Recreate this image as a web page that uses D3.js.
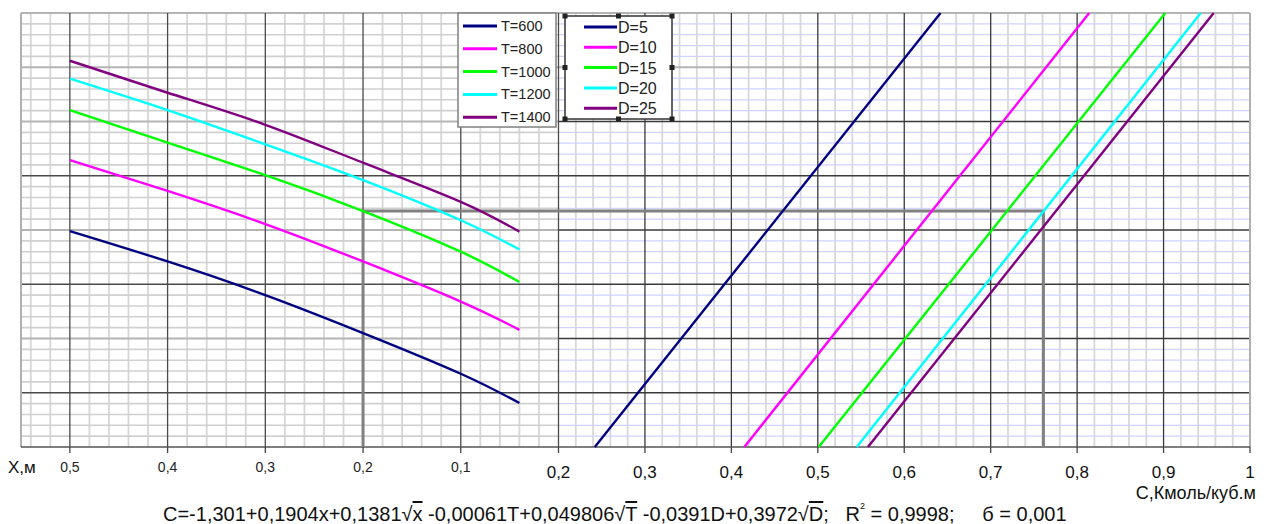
<!DOCTYPE html>
<html><head><meta charset="utf-8">
<script src="https://cdn.jsdelivr.net/npm/d3@7"></script>
<style>body{margin:0;background:#fff}svg{display:block}text{font-family:Arial,"Liberation Sans",sans-serif}</style>
</head><body><svg id="c" width="1270" height="524"></svg>
<script>
// ---- data ----
const xSamples = [0.5, 0.4, 0.3, 0.2, 0.1, 0.04];
const tNames = ["T=600", "T=800", "T=1000", "T=1200", "T=1400"];
const y600  = [3.98, 3.42, 2.80, 2.10, 1.35, 0.81];
const y800  = [5.29, 4.72, 4.11, 3.42, 2.68, 2.16];
const y1000 = [6.21, 5.61, 5.01, 4.35, 3.60, 3.04];
const y1200 = [6.79, 6.21, 5.58, 4.92, 4.18, 3.64];
const y1400 = [7.12, 6.53, 5.94, 5.24, 4.52, 3.97];
const dNames = ["D=5", "D=10", "D=15", "D=20", "D=25"];
const yEnds = [0, 8];
const cD5  = [0.242, 0.642];
const cD10 = [0.415, 0.814];
const cD15 = [0.501, 0.902];
const cD20 = [0.545, 0.943];
const cD25 = [0.558, 0.958];
const xTickLabels = ["0,5", "0,4", "0,3", "0,2", "0,1"];
const xTicks = [0.5, 0.4, 0.3, 0.2, 0.1];
const cTicks = [0.2, 0.3, 0.4, 0.5, 0.6, 0.7, 0.8, 0.9, 1];
const cTickLabels = ["0,2", "0,3", "0,4", "0,5", "0,6", "0,7", "0,8", "0,9", "1"];
const guideX = 0.2, guideY = 4.35, guideC = 0.761;
const colors = ["#000080", "#ff00ff", "#00ff00", "#00ffff", "#800080"];

const svg = d3.select("#c");
const xL = d3.scaleLinear().domain([0.55, 0]).range([21, 558.5]);
const xR = d3.scaleLinear().domain([0.2, 1]).range([558.5, 1250]);
const y = d3.scaleLinear().domain([0, 8]).range([447, 13]);
const g = svg.append("g");

// ---- grid: left panel ----
const leftMinorX = d3.range(27, 0, -1).map(i => i * 0.02).filter(v => Math.abs(v * 10 - Math.round(v * 10)) > 1e-6);
g.selectAll(".lmx").data(leftMinorX).join("line")
  .attr("x1", d => xL(d)).attr("x2", d => xL(d)).attr("y1", y(8)).attr("y2", y(0))
  .attr("stroke", "#d6d6d6").attr("stroke-width", 1.8);
const minorY = d3.range(0, 40).map(i => i * 0.2).filter(v => Math.abs(v - Math.round(v)) > 1e-6);
g.selectAll(".lmy").data(minorY).join("line")
  .attr("x1", xL(0.55)).attr("x2", xL(0)).attr("y1", d => y(d)).attr("y2", d => y(d))
  .attr("stroke", "#d0d0d0").attr("stroke-width", 1.6);
// right panel minor
const rightMinorX = d3.range(11, 50).map(i => i * 0.02).filter(v => Math.abs(v * 10 - Math.round(v * 10)) > 1e-6);
g.selectAll(".rmx").data(rightMinorX).join("line")
  .attr("x1", d => xR(d)).attr("x2", d => xR(d)).attr("y1", y(8)).attr("y2", y(0))
  .attr("stroke", "#d8d8d8").attr("stroke-width", 1.8);
g.selectAll(".rmy").data(minorY).join("line")
  .attr("x1", xR(0.2)).attr("x2", xR(1)).attr("y1", d => y(d)).attr("y2", d => y(d))
  .attr("stroke", "#d2d2ff").attr("stroke-width", 1.2);

// major horizontal
const majorY = d3.range(1, 9);
const leftMajStyle = {1: "d", 2: "g", 3: "d", 4: "g", 5: "d", 6: "g", 7: "g", 8: "g"};
g.selectAll(".lMy").data(majorY).join("line")
  .attr("x1", xL(0.55)).attr("x2", xL(0)).attr("y1", d => y(d)).attr("y2", d => y(d))
  .attr("stroke", d => leftMajStyle[d] === "d" ? "#4a4a4a" : "#b4b4b4")
  .attr("stroke-width", d => leftMajStyle[d] === "d" ? 1.3 : 2.2);
g.selectAll(".rMy").data(majorY).join("line")
  .attr("x1", xR(0.2)).attr("x2", xR(1)).attr("y1", d => y(d)).attr("y2", d => y(d))
  .attr("stroke", d => d >= 7 ? "#b4b4b4" : "#3a3a3a")
  .attr("stroke-width", d => d >= 7 ? 2.2 : 1.3);
// major vertical
g.selectAll(".lMx").data(xTicks.concat([0])).join("line")
  .attr("x1", d => xL(d)).attr("x2", d => xL(d)).attr("y1", y(8)).attr("y2", y(0))
  .attr("stroke", "#4a4a4a").attr("stroke-width", 1.3);
g.selectAll(".rMx").data(cTicks.slice(1, 8)).join("line")
  .attr("x1", d => xR(d)).attr("x2", d => xR(d)).attr("y1", y(8)).attr("y2", y(0))
  .attr("stroke", "#3a3a3a").attr("stroke-width", 1.3);
// borders
g.append("line").attr("x1", xL(0.55)).attr("x2", xL(0.55)).attr("y1", y(8)).attr("y2", y(0)).attr("stroke", "#b0b0b0").attr("stroke-width", 2);
g.append("line").attr("x1", xR(1)).attr("x2", xR(1)).attr("y1", y(8)).attr("y2", y(0)).attr("stroke", "#b0b0b0").attr("stroke-width", 2);

// axis
const axisG = svg.append("g");
axisG.append("line").attr("x1", xL(0.55)).attr("x2", xR(1)).attr("y1", y(0)).attr("y2", y(0)).attr("stroke", "#555").attr("stroke-width", 1.5);
axisG.selectAll(".tl").data(xTicks).join("line")
  .attr("x1", d => xL(d)).attr("x2", d => xL(d)).attr("y1", y(0)).attr("y2", y(0) + 6).attr("stroke", "#444").attr("stroke-width", 1.3);
axisG.selectAll(".tr").data(cTicks).join("line")
  .attr("x1", d => xR(d)).attr("x2", d => xR(d)).attr("y1", y(0)).attr("y2", y(0) + 6).attr("stroke", "#444").attr("stroke-width", 1.3);
axisG.selectAll(".tlt").data(xTicks).join("text")
  .attr("x", d => xL(d)).attr("y", 472).attr("text-anchor", "middle").attr("font-size", 14).attr("fill", "#222")
  .text((d, i) => xTickLabels[i]);
axisG.selectAll(".trt").data(cTicks).join("text")
  .attr("x", d => xR(d)).attr("y", 478).attr("text-anchor", "middle").attr("font-size", 17).attr("fill", "#111")
  .text((d, i) => cTickLabels[i]);
axisG.append("text").attr("x", 8).attr("y", 473).attr("font-size", 17).attr("fill", "#111").text("X,м");
axisG.append("text").attr("x", 1256).attr("y", 499).attr("text-anchor", "end").attr("font-size", 18).attr("fill", "#111").text("С,Кмоль/куб.м");

// guide
const guide = [[xL(guideX), y(0)], [xL(guideX), y(guideY)], [xR(guideC), y(guideY)], [xR(guideC), y(0)]];
svg.append("path").attr("d", d3.line()(guide)).attr("fill", "none").attr("stroke", "#808080").attr("stroke-width", 3);

// curves
const tSeries = [y600, y800, y1000, y1200, y1400];
const lineL = d3.line().x(d => xL(d[0])).y(d => y(d[1])).curve(d3.curveNatural);
svg.selectAll(".tc").data(tSeries).join("path")
  .attr("d", s => lineL(xSamples.map((x, i) => [x, s[i]])))
  .attr("fill", "none").attr("stroke", (d, i) => colors[i]).attr("stroke-width", 2.4);
const dSeries = [cD5, cD10, cD15, cD20, cD25];
const lineR = d3.line().x(d => xR(d[0])).y(d => y(d[1]));
svg.selectAll(".dc").data(dSeries).join("path")
  .attr("d", s => lineR(yEnds.map((v, i) => [s[i], v])))
  .attr("fill", "none").attr("stroke", (d, i) => colors[i]).attr("stroke-width", 2.4);

// legend T
const lt = svg.append("g");
lt.append("rect").attr("x", 458).attr("y", 13).attr("width", 98).attr("height", 114).attr("fill", "#fff").attr("stroke", "#808080").attr("stroke-width", 1.5);
tNames.forEach((n, i) => {
  const cy = 26 + i * 22.8;
  lt.append("line").attr("x1", 463).attr("x2", 497).attr("y1", cy).attr("y2", cy).attr("stroke", colors[i]).attr("stroke-width", 3);
  lt.append("text").attr("x", 501).attr("y", cy + 5).attr("font-size", 14.5).attr("fill", "#222").text(n);
});
// legend D
const ld = svg.append("g");
ld.append("rect").attr("x", 565).attr("y", 16).attr("width", 107).attr("height", 103).attr("fill", "#fff").attr("stroke", "#333").attr("stroke-width", 1.5);
dNames.forEach((n, i) => {
  const cy = 27 + i * 20.3;
  ld.append("line").attr("x1", 584).attr("x2", 617).attr("y1", cy).attr("y2", cy).attr("stroke", colors[i]).attr("stroke-width", 3);
  ld.append("text").attr("x", 618).attr("y", cy + 6).attr("font-size", 16).attr("fill", "#222").text(n);
});
const hx = [565, 618.5, 672], hy = [16, 67.5, 119];
hx.forEach(a => hy.forEach(b => {
  if (a === 618.5 && b === 67.5) return;
  ld.append("rect").attr("x", a - 2.5).attr("y", b - 2.5).attr("width", 5).attr("height", 5).attr("fill", "#222");
}));

// formula
const f = svg.append("text").attr("x", 163).attr("y", 521).attr("font-size", 20).attr("fill", "#111").style("white-space", "pre");
f.append("tspan").text("C=-1,301+0,1904x+0,1381√");
f.append("tspan").style("text-decoration", "overline").text("x");
f.append("tspan").text(" -0,00061T+0,049806√");
f.append("tspan").style("text-decoration", "overline").text("T");
f.append("tspan").text(" -0,0391D+0,3972√");
f.append("tspan").style("text-decoration", "overline").text("D");
f.append("tspan").text(";   R");
f.append("tspan").attr("font-size", 9).attr("dy", -12).text("2");
f.append("tspan").attr("dy", 12).text(" = 0,9998;     б = 0,001");
</script></body></html>
